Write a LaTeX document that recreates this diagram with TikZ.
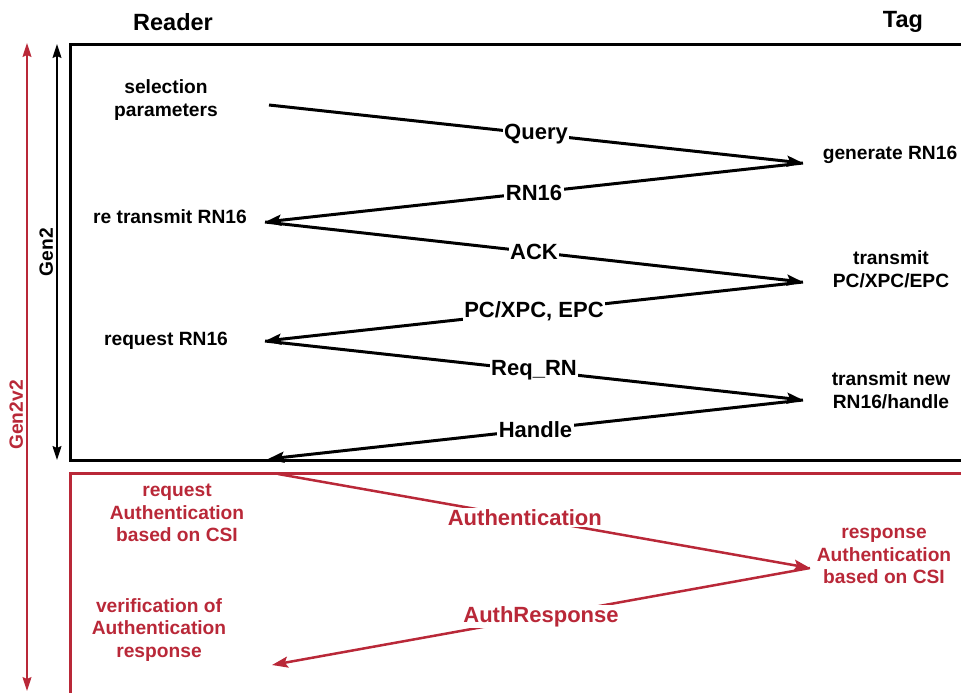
\documentclass[tikz,border=0pt]{standalone}
\usepackage{fontspec}
\setmainfont{Liberation Sans}
\usetikzlibrary{arrows.meta}

\definecolor{authred}{RGB}{185,40,56}

\begin{document}
\begin{tikzpicture}[x=1pt,y=-1pt,
		main node/.style={align=center,font=\fontsize{19.2}{22.5}\selectfont\bfseries},
		head node/.style={font=\fontsize{23.5}{26}\selectfont\bfseries},
		msg/.style={-{Stealth[length=16pt,width=11pt,inset=3pt]},line width=3pt},
		msg label/.style={fill=white,inner sep=1.5pt,font=\fontsize{22}{24}\selectfont\bfseries},
		span line/.style={{Stealth[length=14pt,width=9pt,inset=2pt]}-{Stealth[length=14pt,width=9pt,inset=2pt]},line width=1.3pt}]

		\useasboundingbox (0,0) rectangle (961,693);

		\node[head node] (reader) at (173,22) {Reader};
		\node[head node] (tag) at (903,22) {Tag};

		% protocol frames
		\draw[line width=3pt] (975,45) -- (70,45) -- (70,460) -- (975,460);
		\draw[authred,line width=3pt] (975,473) -- (70,473) -- (70,710);

		% spans on the left
		\coordinate (g1) at (57,44);
		\coordinate (g2) at (57,460);
		\coordinate (v1) at (27,43);
		\coordinate (v2) at (27,691);
		\path[span line] (g1) edge node[main node,rotate=90,anchor=south] {Gen2} (g2);
		\path[span line,authred] (v1) edge node[main node,rotate=90,anchor=south,pos=.574] {Gen2v2} (v2);

		% reader side
		\node[main node] (sel) at (166,100) {selection\\parameters};
		\node[main node] (rtx) at (170,217) {re transmit RN16};
		\node[main node] (req) at (166,341) {request RN16};

		% tag side
		\node[main node] (gen) at (890,155) {generate RN16};
		\node[main node] (tpc) at (891,269) {transmit\\PC/XPC/EPC};
		\node[main node] (tnew) at (891,390) {transmit new\\RN16/handle};

		% turning points of the exchange
		\coordinate (r0) at (269,105);
		\coordinate (r1) at (265,222);
		\coordinate (r2) at (265,341);
		\coordinate (r3) at (268,459);
		\coordinate (t1) at (803,163);
		\coordinate (t2) at (803,282);
		\coordinate (t3) at (803,400);

		\path[msg]
		(r0) edge node[msg label] {Query} (t1)
		(t1) edge node[msg label] {RN16} (r1)
		(r1) edge node[msg label] {ACK} (t2)
		(t2) edge node[msg label] {PC/XPC, EPC} (r2)
		(r2) edge node[msg label] {Req\_RN} (t3)
		(t3) edge node[msg label] {Handle} (r3);

		% authentication extension
		\node[main node,authred] (areq) at (177,513) {request\\Authentication\\based on CSI};
		\node[main node,authred] (aver) at (159,630) {verification of\\Authentication\\response};
		\node[main node,authred] (aresp) at (884,556) {response\\Authentication\\based on CSI};

		\coordinate (a0) at (278,474);
		\coordinate (a1) at (810,568);
		\coordinate (a2) at (272,665);

		\path[msg,authred,line width=2.5pt,every node/.style={msg label,text=authred}]
		(a0) edge node[pos=.464] {Authentication} (a1)
		(a1) edge node {AuthResponse} (a2);
	\end{tikzpicture}
\end{document}
